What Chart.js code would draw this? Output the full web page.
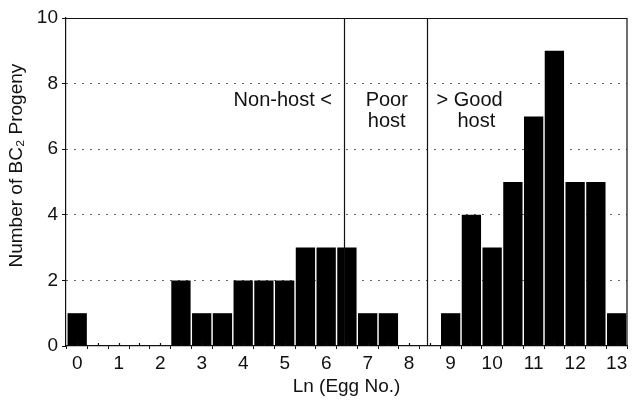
<!DOCTYPE html>
<html>
<head>
<meta charset="utf-8">
<script src="https://cdn.jsdelivr.net/npm/chart.js@4"></script>
<style>
  html, body { margin: 0; padding: 0; background: #fff; }
  #wrap { width: 635px; height: 401px; }
</style>
</head>
<body>
<div id="wrap"><canvas id="myChart" width="635" height="401"></canvas></div>
<script>
const ctx = document.getElementById('myChart');

// bin centres (Ln egg no.) and number of BC2 progeny in each bin
const binCenters = [0, 0.5, 1, 1.5, 2, 2.5, 3, 3.5, 4, 4.5, 5, 5.5, 6, 6.5,
                    7, 7.5, 8, 8.5, 9, 9.5, 10, 10.5, 11, 11.5, 12, 12.5, 13];
const progenyCounts = [1, 0, 0, 0, 0, 2, 1, 1, 2, 2, 2, 3, 3, 3,
                       1, 1, 0, 0, 1, 4, 3, 5, 7, 9, 5, 5, 1];
// class boundaries drawn as vertical lines
const boundaries = [6.43, 8.43];
const xTicks = [0, 0.5, 1, 1.5, 2, 2.5, 3, 3.5, 4, 4.5, 5, 5.5, 6, 6.5,
                7, 7.5, 8, 8.5, 9, 9.5, 10, 10.5, 11, 11.5, 12, 12.5, 13];
const yTicks = [0, 2, 4, 6, 8, 10];

const FONT = 'Liberation Sans, Arial, Helvetica, sans-serif';

const framePlugin = {
    id: 'frame',
    afterDatasetsDraw(chart) {
        const c = chart.ctx;
        const area = chart.chartArea;
        const x = chart.scales.x;
        const y = chart.scales.y;
        c.save();
        c.strokeStyle = '#111';
        c.lineWidth = 1.2;
        c.beginPath();
        c.moveTo(area.left, area.top + 0.5);
        c.lineTo(area.right, area.top + 0.5);
        c.lineTo(area.right, area.bottom);
        boundaries.forEach(b => {
            const px = Math.round(x.getPixelForValue(b)) + 0.5;
            c.moveTo(px, area.top);
            c.lineTo(px, area.bottom);
        });
        // upper half of the x tick marks (they cross the axis)
        xTicks.forEach(t => {
            const px = Math.round(x.getPixelForValue(t)) + 0.5;
            c.moveTo(px, area.bottom);
            c.lineTo(px, area.bottom - 3);
        });
        c.stroke();

        c.fillStyle = '#111';
        c.font = '20px ' + FONT;
        c.textBaseline = 'middle';
        const yRow1 = y.getPixelForValue(7.5);
        const yRow2 = y.getPixelForValue(6.86);
        c.textAlign = 'right';
        c.fillText('Non-host <', x.getPixelForValue(6.14), yRow1);
        c.textAlign = 'center';
        c.fillText('Poor', x.getPixelForValue(7.46), yRow1);
        c.fillText('host', x.getPixelForValue(7.46), yRow2);
        c.textAlign = 'left';
        c.fillText('> Good', x.getPixelForValue(8.66), yRow1);
        c.textAlign = 'center';
        c.fillText('host', x.getPixelForValue(9.62), yRow2);

        // y axis title, sits a bit above the middle in the original
        c.font = '19px ' + FONT;
        c.translate(17, y.getPixelForValue(5.5));
        c.rotate(-Math.PI / 2);
        c.fillText('Number of BC₂ Progeny', 0, 0);
        c.restore();
    }
};

new Chart(ctx, {
    type: 'bar',
    data: {
        datasets: [{
            data: binCenters.map((v, i) => ({ x: v, y: progenyCounts[i] })),
            backgroundColor: '#000',
            borderWidth: 0,
            categoryPercentage: 1,
            barPercentage: 0.93
        }]
    },
    options: {
        responsive: false,
        animation: false,
        layout: { padding: { top: 18, right: 8, left: 0, bottom: 0 } },
        plugins: { legend: { display: false }, tooltip: { enabled: false } },
        scales: {
            x: {
                type: 'linear',
                offset: false,
                min: -0.27,
                max: 13.25,
                afterFit: s => { s.height = 55; },
                afterBuildTicks: s => { s.ticks = xTicks.map(v => ({ value: v })); },
                border: { color: '#111', width: 1.2 },
                grid: { drawOnChartArea: false, tickLength: 3, color: '#111' },
                ticks: {
                    autoSkip: false,
                    maxRotation: 0,
                    padding: 3,
                    color: '#111',
                    font: { family: FONT, size: 19 },
                    callback: v => Number.isInteger(v) ? String(v) : ''
                },
                title: {
                    display: true,
                    text: 'Ln (Egg No.)',
                    color: '#111',
                    font: { family: FONT, size: 19 },
                    padding: { top: 0, bottom: 3 }
                }
            },
            y: {
                min: 0,
                max: 10,
                afterFit: s => { s.width = 66; },
                afterBuildTicks: s => { s.ticks = yTicks.map(v => ({ value: v })); },
                border: { color: '#111', width: 1.2, dash: [1.5, 6.5] },
                grid: {
                    tickLength: 4,
                    color: ctx2 => (ctx2.tick && ctx2.tick.value > 0 && ctx2.tick.value < 10) ? '#333' : 'rgba(0,0,0,0)',
                    tickColor: '#111',
                    lineWidth: 1
                },
                ticks: {
                    padding: 4,
                    color: '#111',
                    font: { family: FONT, size: 19 }
                },
                title: { display: false }
            }
        }
    },
    plugins: [framePlugin]
});
</script>
</body>
</html>
